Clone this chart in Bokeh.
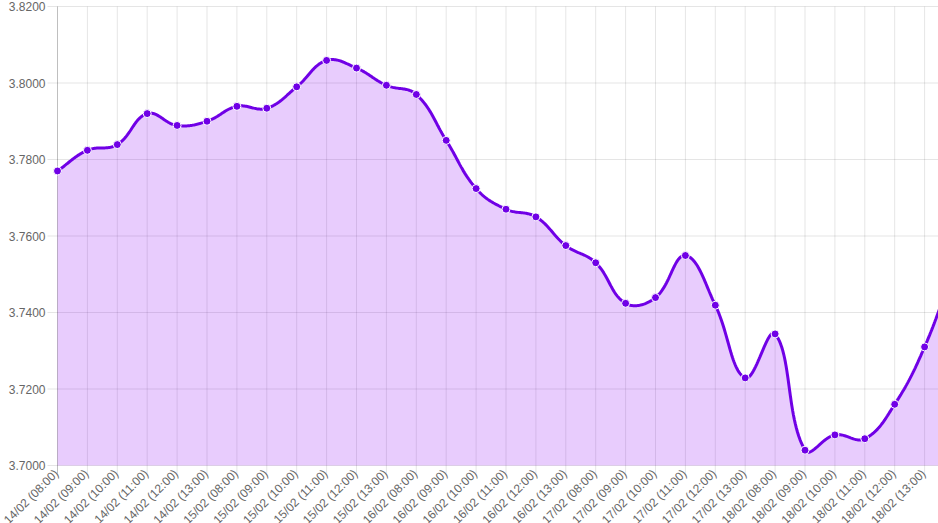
import math
from bokeh.plotting import figure
from bokeh.models import Range1d
from bokeh.core.properties import value
from bokeh.embed import file_html
from bokeh.resources import INLINE

# ---- data ----
labels = [
    "14/02 (08:00)", "14/02 (09:00)", "14/02 (10:00)", "14/02 (11:00)", "14/02 (12:00)", "14/02 (13:00)",
    "15/02 (08:00)", "15/02 (09:00)", "15/02 (10:00)", "15/02 (11:00)", "15/02 (12:00)", "15/02 (13:00)",
    "16/02 (08:00)", "16/02 (09:00)", "16/02 (10:00)", "16/02 (11:00)", "16/02 (12:00)", "16/02 (13:00)",
    "17/02 (08:00)", "17/02 (09:00)", "17/02 (10:00)", "17/02 (11:00)", "17/02 (12:00)", "17/02 (13:00)",
    "18/02 (08:00)", "18/02 (09:00)", "18/02 (10:00)", "18/02 (11:00)", "18/02 (12:00)", "18/02 (13:00)",
]
# last value continues past the visible right edge (line leaves the chart rising)
values = [
    3.7770, 3.7824, 3.7839, 3.7920, 3.7889, 3.7900,
    3.7939, 3.7934, 3.7990, 3.8059, 3.8039, 3.7994,
    3.7970, 3.7850, 3.7724, 3.7670, 3.7650, 3.7575,
    3.7530, 3.7424, 3.7439, 3.7549, 3.7419, 3.7229,
    3.7344, 3.7040, 3.7080, 3.7070, 3.7160, 3.7310,
    3.7520,
]
y_ticks = [3.70, 3.72, 3.74, 3.76, 3.78, 3.80, 3.82]
y_tick_labels = [f"{t:.4f}" for t in y_ticks]

# ---- geometry / style ----
W, H = 938, 523
LEFT, TOP = 57, 6
PLOT_H = 459          # pixel height of the value area (3.70 .. 3.82)
BOTTOM = H - TOP - PLOT_H
step_px = 29.9
x_start = -LEFT / step_px
x_end = (W - LEFT) / step_px
y0, y1 = min(y_ticks), max(y_ticks)
sx = step_px
sy = PLOT_H / (y1 - y0)
y_start = y0 - BOTTOM / sy
y_stop = y1 + TOP / sy
tick_len = 8
ytick_len = 10

LINE = "#7000e6"
FILL = "#8a00f5"
GRID = "rgba(0,0,0,0.1)"
ZERO = "rgba(0,0,0,0.25)"
TEXT = "#666666"
FONT = "Liberation Sans"

# ---- Chart.js-like spline (tension 0.4) computed in pixel space ----
tension = 0.4
n = len(values)
xs = list(range(n))
P = [(xs[i] * sx, values[i] * sy) for i in range(n)]
cp_prev, cp_next = [], []
for i in range(n):
    prev = P[i - 1] if i > 0 else P[i]
    cur = P[i]
    nxt = P[i + 1] if i < n - 1 else P[i]
    d01 = math.hypot(cur[0] - prev[0], cur[1] - prev[1])
    d12 = math.hypot(nxt[0] - cur[0], nxt[1] - cur[1])
    tot = d01 + d12
    s01 = d01 / tot if tot else 0
    s12 = d12 / tot if tot else 0
    fa, fb = tension * s01, tension * s12
    cp_prev.append((cur[0] - fa * (nxt[0] - prev[0]), cur[1] - fa * (nxt[1] - prev[1])))
    cp_next.append((cur[0] + fb * (nxt[0] - prev[0]), cur[1] + fb * (nxt[1] - prev[1])))

cx, cy = [], []
for i in range(n - 1):
    p0, p1, p2, p3 = P[i], cp_next[i], cp_prev[i + 1], P[i + 1]
    for k in range(30):
        t = k / 30
        a = (1 - t) ** 3
        b = 3 * (1 - t) ** 2 * t
        c = 3 * (1 - t) * t ** 2
        d = t ** 3
        cx.append((a * p0[0] + b * p1[0] + c * p2[0] + d * p3[0]) / sx)
        cy.append((a * p0[1] + b * p1[1] + c * p2[1] + d * p3[1]) / sy)
cx.append(P[-1][0] / sx)
cy.append(P[-1][1] / sy)

p = figure(
    width=W, height=H, output_backend="svg", toolbar_location=None,
    x_range=Range1d(x_start, x_end), y_range=Range1d(y_start, y_stop),
    min_border_left=0, min_border_right=0, min_border_top=0, min_border_bottom=0,
    outline_line_color=None, background_fill_color="white", border_fill_color="white",
)
p.xgrid.visible = False
p.ygrid.visible = False
p.xaxis.visible = False
p.yaxis.visible = False

nl = len(labels)
# horizontal grid lines (extending left as tick marks)
p.segment(x0=[-ytick_len / sx] * len(y_ticks), y0=y_ticks, x1=[x_end] * len(y_ticks), y1=y_ticks,
          line_color=GRID, line_width=1)
# vertical grid lines (extending below as tick marks)
p.segment(x0=xs[1:nl], y0=[y0 - tick_len / sy] * (nl - 1), x1=xs[1:nl], y1=[y1] * (nl - 1),
          line_color=GRID, line_width=1)
p.segment(x0=[xs[0]], y0=[y0 - tick_len / sy], x1=[xs[0]], y1=[y1],
          line_color=ZERO, line_width=1)

# area + line + points
p.varea(x=cx, y1=[y0] * len(cx), y2=cy, fill_color=FILL, fill_alpha=0.2)
p.line(cx, cy, line_color=LINE, line_width=3)
p.scatter(xs, values, size=8, fill_color=LINE, line_color="white", line_width=1)

# y tick labels
p.text(x=[-(ytick_len + 2) / sx] * len(y_ticks), y=y_ticks, text=y_tick_labels,
       text_align="right", text_baseline="middle",
       text_font=value(FONT), text_font_size="12px", text_color=TEXT)

# rotated x labels
p.text(x=xs[:nl], y=[y0 - (tick_len - 2) / sy] * nl, text=labels,
       angle=math.pi / 4, text_align="right", text_baseline="middle",
       x_offset=-1, text_font=value(FONT), text_font_size="12px", text_color=TEXT)

open("out.html", "w").write(file_html(p, INLINE))
